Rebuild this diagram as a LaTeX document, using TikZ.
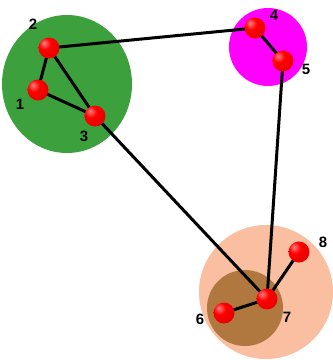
\documentclass[tikz,border=0pt]{standalone}
\usepackage{fontspec}
\setsansfont{Liberation Sans}
\pgfdeclarelayer{bg}
\pgfdeclarelayer{bonds}
\pgfsetlayers{bg,bonds,main}
\pgfdeclareradialshading{redball}{\pgfpoint{-12bp}{12bp}}{%
  color(0bp)=(red!50!white); color(14bp)=(red); color(48bp)=(red!85!black); color(62bp)=(red!55!black); color(100bp)=(red!55!black)}
\begin{document}
\begin{tikzpicture}[x=1pt,y=-1pt,
  atom/.style={circle,minimum size=21pt,inner sep=0pt,shading=redball},
  lbl/.style={font=\sffamily\bfseries\fontsize{15}{15}\selectfont,inner sep=0pt},
  bond/.style={line width=3pt,black}]
\useasboundingbox (0,0) rectangle (333,360);
\definecolor{grp1}{RGB}{60,160,60}
\definecolor{grp2}{RGB}{255,0,255}
\definecolor{grp3}{RGB}{250,190,160}
\definecolor{grp4}{RGB}{176,120,62}
\begin{pgfonlayer}{bg}
\fill[grp1] (67,84) ellipse [x radius=65, y radius=69];
\fill[grp2] (268,47) circle (39);
\fill[grp3] (266,292) circle (67);
\fill[grp4] (245,308) circle (38);
\end{pgfonlayer}
\node[atom] (n1) at (38,90) {};
\node[atom] (n2) at (49,48) {};
\node[atom] (n3) at (95,116) {};
\node[atom] (n4) at (255,28) {};
\node[atom] (n5) at (283,61) {};
\node[atom] (n6) at (224,313) {};
\node[atom] (n7) at (267,299) {};
\node[atom] (n8) at (299,252) {};
\begin{pgfonlayer}{bonds}
\draw[bond] (n2.center) -- (n4.center);
\draw[bond] (n2.center) -- (n1.center);
\draw[bond] (n2.center) -- (n3.center);
\draw[bond] (n1.center) -- (n3.center);
\draw[bond] (n3.center) -- (n7.center);
\draw[bond] (n4.center) -- (n5.center);
\draw[bond] (n5.center) -- (n7.center);
\draw[bond] (n7.center) -- (n6.center);
\draw[bond] (n7.center) -- (n8.center);
\end{pgfonlayer}
\node[lbl] (l1) at (20,104) {1};
\node[lbl] (l2) at (33,24) {2};
\node[lbl] (l3) at (84,136) {3};
\node[lbl] (l4) at (274,15) {4};
\node[lbl] (l5) at (306,69) {5};
\node[lbl] (l6) at (200,319) {6};
\node[lbl] (l7) at (287,317) {7};
\node[lbl] (l8) at (323,242) {8};
\end{tikzpicture}
\end{document}
